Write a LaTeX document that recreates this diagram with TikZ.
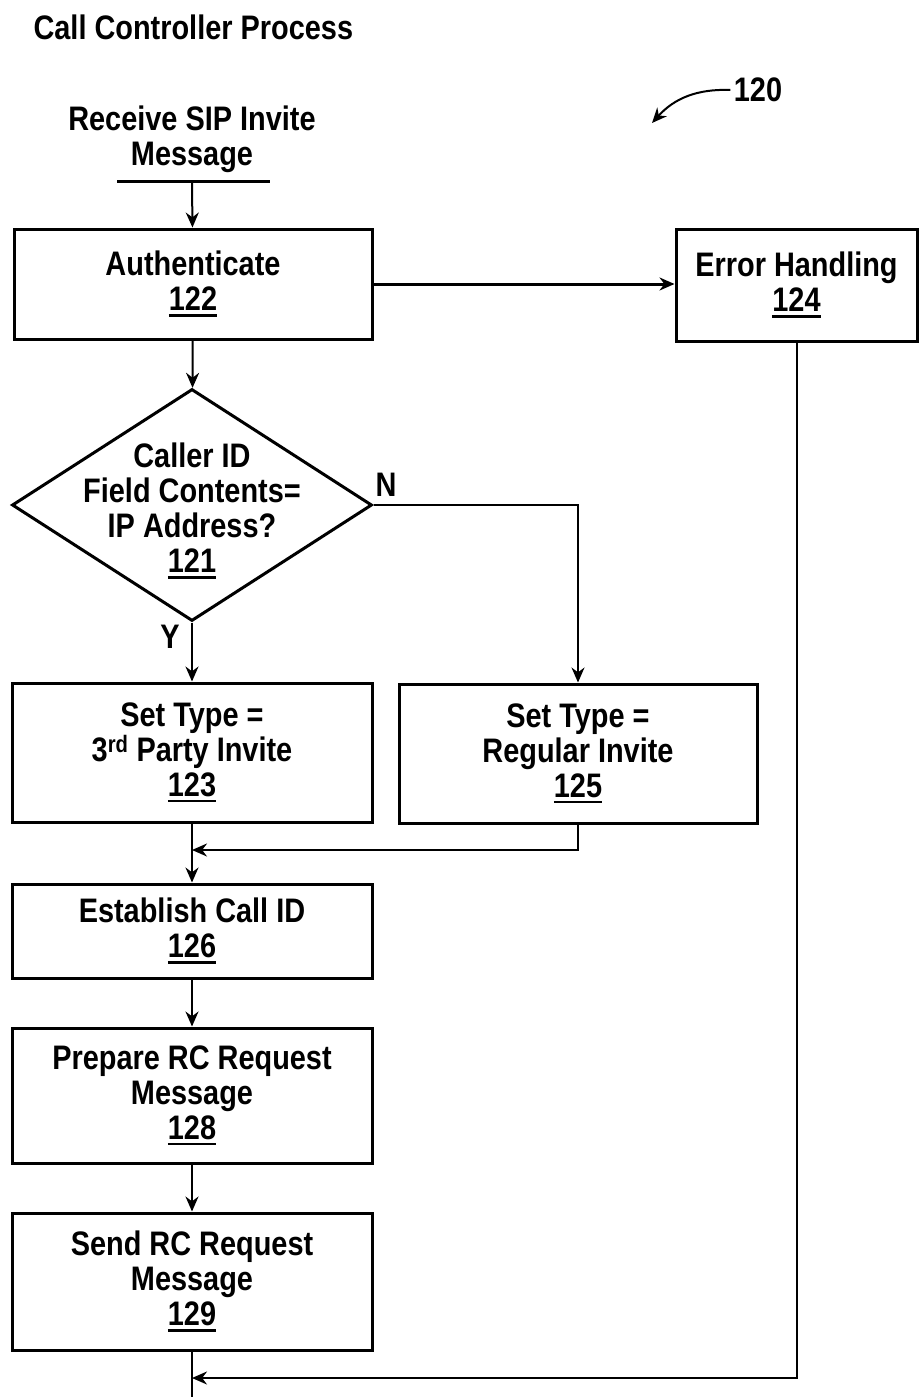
\documentclass[tikz,border=0pt]{standalone}
\usepackage{fontspec}
\setmainfont{Liberation Sans}[FakeStretch=0.85]
\usetikzlibrary{arrows.meta,shapes.geometric,positioning}
% underlined step number
\newcommand{\refnum}[1]{\setbox0\hbox{#1}\rlap{\rule[-6pt]{\wd0}{2.5pt}}\box0}
\tikzset{x=1pt, y=-1pt, % one unit is one pixel of the sheet
        every node/.style={ % Sets the text of each node
            font=\fontsize{34}{35}\selectfont\bfseries},
        stepbox/.style={ % Sets the properties for each process box
            draw,
            line width=3pt,
            align=center,
            inner sep=0pt},
        decision/.style={ % The test on the caller ID
            draw, diamond,
            line width=3pt,
            inner sep=0pt,
            minimum width=360pt,
            minimum height=232pt},
        flow/.style={ % Sets the properties for each connector
            draw,
            line width=2pt,
            -{Stealth[length=15pt,width=13pt]}}
        }
\begin{document}
\begin{tikzpicture}
    \useasboundingbox (0,0) rectangle (920,1397);

    \node[anchor=west] (title) at (30,27) {Call Controller Process};
    \node (fig) at (758,90) {120};
    \coordinate (figtip) at (652,123);

    \node[align=center] (start) at (192,139) {Receive SIP Invite\\Message};
    \coordinate (inl) at (117,181);
    \coordinate (inr) at (270,181);
    \coordinate (in) at (192,181);

    \node[stepbox, minimum width=358pt, minimum height=110pt] (s122) at (193,284) {Authenticate\\\refnum{122}};
    \node[stepbox, minimum width=241pt, minimum height=112pt] (s124) at (796.5,285) {Error Handling\\\refnum{124}};
    \node[decision] (s121) at (192,505) {};
    \node[align=center] (t121) at (192,511) {Caller ID\\Field Contents=\\IP Address?\\\refnum{121}};
    \node (lblN) at (386,485) {N};
    \node (lblY) at (170,637) {Y};
    \node[stepbox, minimum width=360pt, minimum height=139pt] (s123) at (192,752.5) {Set Type =\\3\textsuperscript{rd} Party Invite\\\refnum{123}};
    \node[stepbox, minimum width=358pt, minimum height=139pt] (s125) at (578,753.5) {Set Type =\\Regular Invite\\\refnum{125}};
    \node[stepbox, minimum width=360pt, minimum height=94pt] (s126) at (192,931) {Establish Call ID\\\refnum{126}};
    \node[stepbox, minimum width=360pt, minimum height=135pt] (s128) at (192,1095.5) {Prepare RC Request\\Message\\\refnum{128}};
    \node[stepbox, minimum width=360pt, minimum height=137pt] (s129) at (192,1281.5) {Send RC Request\\Message\\\refnum{129}};

    \coordinate (j1) at (192,850);
    \coordinate (j2) at (192,1378);
    \coordinate (exit) at (192,1397);

    \draw[line width=3pt] (inl) -- (inr);
    \draw[flow] (fig.west) to[bend right=25] (figtip);
    \draw[flow] (in) -- (s122);
    \draw[flow, line width=3pt] (s122) -- (s122 -| s124.west);
    \draw[flow] (s122) -- (s121);
    \draw[flow] (s121.east) -| (s125.north);
    \draw[flow] (s121.south) -- (s123);
    \draw[flow] (s125.south) |- (j1);
    \draw[flow] (s123) -- (s126);
    \draw[flow] (s126) -- (s128);
    \draw[flow] (s128) -- (s129);
    \draw[line width=2pt] (s129) -- (exit);
    \draw[flow] (s124.south) |- (j2);
\end{tikzpicture}
\end{document}
